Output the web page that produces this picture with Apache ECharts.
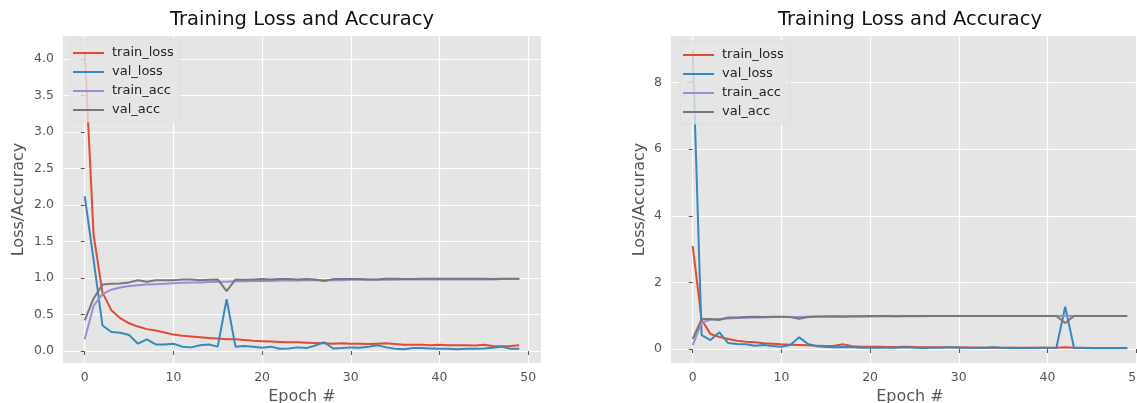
<!DOCTYPE html>
<html>
<head>
<meta charset="utf-8">
<script src="https://cdn.jsdelivr.net/npm/echarts@6/dist/echarts.min.js"></script>
<style>
html,body{margin:0;padding:0;background:#fff;}
#chart{width:1137px;height:403px;}
</style>
</head>
<body>
<div id="chart"></div>
<script>
// ---------- data ----------
const epochs = [0,1,2,3,4,5,6,7,8,9,10,11,12,13,14,15,16,17,18,19,20,21,22,23,24,25,26,27,28,29,30,31,32,33,34,35,36,37,38,39,40,41,42,43,44,45,46,47,48,49];
const seriesNames = ['train_loss', 'val_loss', 'train_acc', 'val_acc'];
const chartTitle = 'Training Loss and Accuracy';
const xName = 'Epoch #';
const yName = 'Loss/Accuracy';

// left chart
const trainLossL = [4.10,1.59,0.80,0.56,0.45,0.38,0.335,0.30,0.28,0.255,0.225,0.21,0.20,0.19,0.18,0.17,0.16,0.16,0.15,0.14,0.135,0.13,0.125,0.12,0.12,0.115,0.11,0.105,0.10,0.105,0.10,0.10,0.095,0.10,0.105,0.095,0.085,0.085,0.085,0.08,0.085,0.08,0.08,0.08,0.075,0.085,0.07,0.065,0.07,0.08];
const valLossL = [2.12,1.25,0.35,0.26,0.25,0.22,0.10,0.16,0.09,0.09,0.10,0.06,0.05,0.08,0.09,0.06,0.71,0.06,0.07,0.06,0.045,0.06,0.03,0.035,0.05,0.04,0.075,0.12,0.035,0.04,0.05,0.045,0.06,0.08,0.05,0.03,0.025,0.04,0.04,0.035,0.03,0.03,0.025,0.03,0.03,0.035,0.045,0.06,0.03,0.03];
const trainAccL = [0.16,0.62,0.78,0.84,0.87,0.89,0.90,0.91,0.915,0.92,0.93,0.935,0.94,0.94,0.945,0.95,0.95,0.955,0.955,0.96,0.96,0.96,0.965,0.965,0.965,0.97,0.97,0.97,0.97,0.97,0.975,0.975,0.975,0.975,0.975,0.975,0.98,0.98,0.98,0.98,0.98,0.98,0.98,0.98,0.98,0.98,0.98,0.985,0.985,0.985];
const valAccL = [0.42,0.72,0.91,0.92,0.925,0.94,0.97,0.95,0.97,0.97,0.97,0.98,0.98,0.97,0.975,0.98,0.82,0.98,0.975,0.98,0.985,0.98,0.985,0.985,0.98,0.985,0.98,0.96,0.985,0.985,0.985,0.985,0.98,0.98,0.99,0.99,0.985,0.985,0.99,0.99,0.99,0.99,0.99,0.99,0.99,0.99,0.985,0.99,0.99,0.99];

// right chart
const trainLossR = [3.09,0.88,0.45,0.36,0.30,0.25,0.22,0.20,0.17,0.16,0.14,0.13,0.12,0.11,0.10,0.09,0.10,0.14,0.08,0.07,0.07,0.065,0.06,0.06,0.07,0.06,0.055,0.05,0.05,0.05,0.05,0.045,0.045,0.04,0.045,0.04,0.04,0.04,0.04,0.035,0.04,0.04,0.05,0.035,0.035,0.03,0.03,0.03,0.03,0.03];
const valLossR = [8.95,0.42,0.27,0.50,0.18,0.15,0.14,0.10,0.12,0.09,0.07,0.12,0.35,0.15,0.08,0.06,0.05,0.06,0.05,0.04,0.04,0.035,0.04,0.04,0.05,0.04,0.03,0.035,0.04,0.05,0.04,0.035,0.03,0.04,0.05,0.03,0.035,0.03,0.03,0.04,0.035,0.03,1.27,0.03,0.03,0.025,0.025,0.025,0.02,0.02];
const trainAccR = [0.12,0.80,0.88,0.90,0.92,0.93,0.94,0.95,0.95,0.96,0.96,0.965,0.965,0.97,0.97,0.975,0.975,0.97,0.98,0.98,0.98,0.98,0.985,0.985,0.985,0.985,0.985,0.99,0.99,0.99,0.99,0.99,0.99,0.99,0.99,0.99,0.99,0.99,0.99,0.99,0.99,0.99,0.99,0.99,0.99,0.99,0.99,0.99,0.99,0.99];
const valAccR = [0.30,0.90,0.90,0.87,0.95,0.95,0.96,0.97,0.96,0.97,0.97,0.96,0.91,0.96,0.98,0.98,0.985,0.98,0.985,0.985,0.99,0.99,0.99,0.985,0.99,0.99,0.99,0.99,0.99,0.99,0.99,0.99,0.99,0.99,0.99,0.99,0.99,0.99,0.99,0.99,0.99,0.99,0.78,0.99,0.99,0.99,0.99,0.99,0.99,0.99];

// tick labels
const xTicks = [0,10,20,30,40,50];
const yTicksL = [0,0.5,1.0,1.5,2.0,2.5,3.0,3.5,4.0];
const yTicksR = [0,2,4,6,8];

// ---------- styling ----------
const colors = ['#E24A33', '#348ABD', '#988ED5', '#777777'];
const FONT = 'DejaVu Sans';
const labelColor = '#555555';

function pairs(ys) { return epochs.map((e, i) => [e, ys[i]]); }

function xAxisOpt(gridIndex, nameGap) {
  return {
    type: 'value', gridIndex: gridIndex,
    min: -2.45, max: 51.45, minInterval: 10, maxInterval: 10,
    name: xName, nameLocation: 'middle', nameGap: nameGap,
    nameTextStyle: { color: labelColor, fontSize: 16, fontFamily: FONT },
    axisLine: { show: false },
    axisTick: { show: true, length: 4, lineStyle: { color: labelColor, width: 1 }, customValues: xTicks },
    axisLabel: { color: labelColor, fontSize: 12.5, fontFamily: FONT, margin: 8, customValues: xTicks,
      formatter: v => String(v) },
    splitLine: { show: true, lineStyle: { color: '#ffffff', width: 1.2 } }
  };
}
function yAxisOpt(gridIndex, min, max, step, ticks, digits, nameGap) {
  return {
    type: 'value', gridIndex: gridIndex,
    min: min, max: max, minInterval: step, maxInterval: step,
    name: yName, nameLocation: 'middle', nameGap: nameGap,
    nameTextStyle: { color: labelColor, fontSize: 16, fontFamily: FONT },
    axisLine: { show: false },
    axisTick: { show: true, length: 4, lineStyle: { color: labelColor, width: 1 }, customValues: ticks },
    axisLabel: { color: labelColor, fontSize: 12.5, fontFamily: FONT, margin: 9, customValues: ticks,
      formatter: v => Number(v).toFixed(digits) },
    splitLine: { show: true, lineStyle: { color: '#ffffff', width: 1.2 } }
  };
}
function legendOpt(left, top) {
  return {
    left: left, top: top, orient: 'vertical',
    data: seriesNames,
    icon: 'rect', itemWidth: 31, itemHeight: 2, itemGap: 3,
    padding: [6, 6, 4, 3],
    backgroundColor: 'rgba(229,229,229,0.8)',
    borderColor: 'rgba(220,220,220,0.8)', borderWidth: 1, borderRadius: 2,
    textStyle: { color: '#222', fontSize: 13, fontFamily: FONT, lineHeight: 16, padding: [0,0,0,3] },
    selectedMode: false
  };
}
function lines(xi, yi, arrs) {
  return arrs.map((arr, k) => ({
    name: seriesNames[k], type: 'line', xAxisIndex: xi, yAxisIndex: yi,
    data: pairs(arr), symbol: 'none', smooth: false,
    lineStyle: { color: colors[k], width: 2 }, itemStyle: { color: colors[k] },
    animation: false
  }));
}

const option = {
  animation: false,
  title: [
    { text: chartTitle, left: 302, top: 10, textAlign: 'center', padding: 0,
      textStyle: { fontFamily: FONT, fontSize: 19.5, fontWeight: 'normal', color: '#111' } },
    { text: chartTitle, left: 910, top: 10, textAlign: 'center', padding: 0,
      textStyle: { fontFamily: FONT, fontSize: 19.5, fontWeight: 'normal', color: '#111' } }
  ],
  legend: [ legendOpt(70, 39), legendOpt(680, 41) ],
  grid: [
    { left: 63, top: 36, width: 478, height: 327, show: true, backgroundColor: '#E5E5E5', borderWidth: 0,
      containLabel: false, outerBoundsMode: 'none' },
    { left: 671, top: 36, width: 478, height: 327, show: true, backgroundColor: '#E5E5E5', borderWidth: 0,
      containLabel: false, outerBoundsMode: 'none' }
  ],
  xAxis: [ xAxisOpt(0, 24), xAxisOpt(1, 24) ],
  yAxis: [
    yAxisOpt(0, -0.164, 4.315, 0.5, yTicksL, 1, 36),
    yAxisOpt(1, -0.42, 9.40, 2, yTicksR, 0, 23)
  ],
  series: [].concat(
    lines(0, 0, [trainLossL, valLossL, trainAccL, valAccL]),
    lines(1, 1, [trainLossR, valLossR, trainAccR, valAccR])
  )
};

const chart = echarts.init(document.getElementById('chart'), null, { renderer: 'canvas' });
chart.setOption(option);
</script>
</body>
</html>
